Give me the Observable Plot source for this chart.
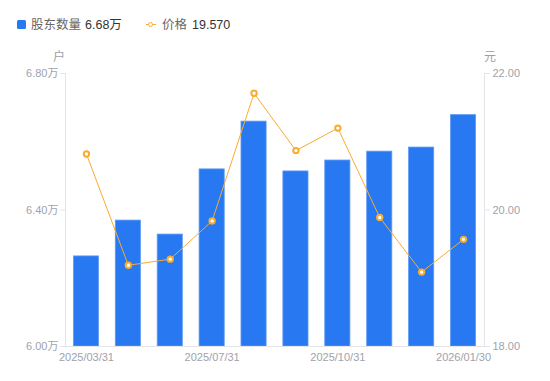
<!DOCTYPE html>
<html>
<head>
<meta charset="utf-8">
<script src="https://cdn.jsdelivr.net/npm/d3@7"></script>
<script src="https://cdn.jsdelivr.net/npm/@observablehq/plot@0.6"></script>
<style>
  html, body { margin: 0; padding: 0; background: #fff; }
  body { font-family: "Liberation Sans", "Noto Sans CJK SC", sans-serif; }
  #wrap { position: relative; width: 550px; height: 381px; }
  .abs { position: absolute; white-space: nowrap; line-height: 1; }
  .lg { font-size: 12.5px; color: #666; }
  .lv { font-size: 12.5px; color: #333; }
  .unit { font-size: 12px; color: #9aa0ad; }
</style>
</head>
<body>
<div id="wrap"></div>
<script>
const dates = ["2025/03/31","2025/04/30","2025/06/30","2025/07/31","2025/08/29","2025/09/30","2025/10/31","2025/11/28","2025/12/31","2026/01/30"];
const holders = [6.264, 6.369, 6.328, 6.519, 6.659, 6.513, 6.545, 6.571, 6.583, 6.678]; // 万户
const prices = [20.82, 19.19, 19.28, 19.84, 21.71, 20.87, 21.20, 19.89, 19.09, 19.57]; // 元
const leftTicks = [6.0, 6.4, 6.8];
const rightTicks = [18, 20, 22];
const xTickLabels = ["2025/03/31","2025/07/31","2025/10/31","2026/01/30"];

const BAR = "#2878f1", LINE = "#f8ac30", AXIS = "#e4e5e8", TXT = "#9ea2ad";
const yMin = 6.0, yMax = 6.8, pMin = 18, pMax = 22;
const p2y = p => yMin + (p - pMin) / (pMax - pMin) * (yMax - yMin);

const data = dates.map((d, i) => ({date: d, hold: holders[i], price: prices[i], py: p2y(prices[i])}));

const chart = Plot.plot({
  width: 550,
  height: 381,
  marginTop: 73,
  marginBottom: 35,
  marginLeft: 65,
  marginRight: 66,
  style: {fontFamily: '"Liberation Sans", "Noto Sans CJK SC", sans-serif', fontSize: "11px", color: TXT, background: "#fff"},
  x: {type: "band", domain: dates, paddingInner: 0.4, paddingOuter: 0.2, round: false},
  y: {domain: [yMin, yMax]},
  marks: [
    Plot.frame({anchor: "left", stroke: AXIS}),
    Plot.frame({anchor: "right", stroke: AXIS}),
    Plot.barY(data, {x: "date", y1: yMin, y2: "hold", fill: BAR, stroke: "#5f9bf5", strokeWidth: 0.8}),
    Plot.ruleY([yMin], {stroke: AXIS}),
    Plot.line(data, {x: "date", y: "py", stroke: LINE, strokeWidth: 1}),
    Plot.dot(data, {x: "date", y: "py", r: 2.7, fill: "#fff", stroke: LINE, strokeWidth: 2}),
    Plot.axisY(leftTicks, {anchor: "left", tickSize: 5, tickPadding: 2, stroke: AXIS, fill: TXT, tickFormat: d => d.toFixed(2) + "万", label: null}),
    Plot.axisY(rightTicks.map(p2y), {anchor: "right", tickSize: 5, tickPadding: 3, stroke: AXIS, fill: TXT, tickFormat: v => ((v - yMin) / (yMax - yMin) * (pMax - pMin) + pMin).toFixed(2), label: null}),
    Plot.axisX(xTickLabels, {tickSize: 0, tickPadding: 7, fill: TXT, label: null})
  ]
});

const wrap = document.getElementById("wrap");
wrap.appendChild(chart);

function addText(txt, cls, x, y, extra) {
  const s = document.createElement("span");
  s.className = "abs " + cls;
  s.textContent = txt;
  s.style.left = x + "px";
  s.style.top = y + "px";
  if (extra) Object.assign(s.style, extra);
  wrap.appendChild(s);
  return s;
}
// legend
const sq = document.createElement("div");
sq.className = "abs";
Object.assign(sq.style, {left: "17px", top: "20px", width: "9px", height: "9px", background: BAR, borderRadius: "1.5px"});
wrap.appendChild(sq);
addText("股东数量", "lg", 31, 18.5);
addText(holders[holders.length - 1].toFixed(2) + "万", "lv", 85, 18.5);

const ln = document.createElement("div");
ln.className = "abs";
Object.assign(ln.style, {left: "146px", top: "24px", width: "10px", height: "1.2px", background: LINE});
wrap.appendChild(ln);
const cc = document.createElement("div");
cc.className = "abs";
Object.assign(cc.style, {left: "148px", top: "21.5px", width: "3px", height: "3px", background: "#fff", border: "1.6px solid " + LINE, borderRadius: "50%"});
wrap.appendChild(cc);
addText("价格", "lg", 162, 18.5);
addText(prices[prices.length - 1].toFixed(3), "lv", 192, 18.5);

// units
addText("户", "unit", 53, 51);
addText("元", "unit", 484, 51);
</script>
</body>
</html>
